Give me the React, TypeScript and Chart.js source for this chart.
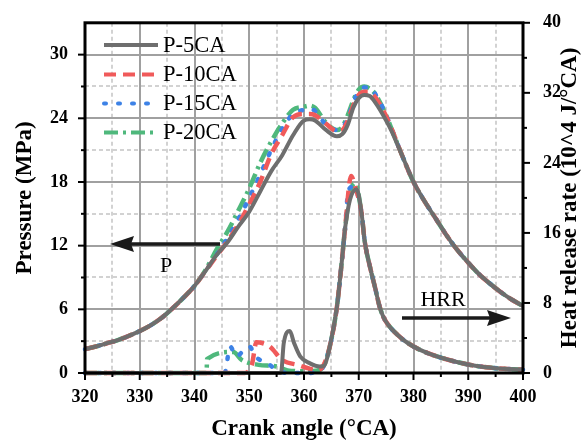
import React, { useEffect, useRef } from 'react';
import { Chart, registerables } from 'chart.js';

Chart.register(...registerables);

// ---------- data ----------
const pAngles = [320, 322, 324, 326, 328, 330, 332, 334, 336, 338, 340, 342, 344, 346, 348, 350, 352, 354, 356, 358, 360, 361, 362, 364, 366, 367, 368, 369, 370, 371, 372, 373, 375, 376, 378, 380, 382, 384, 386, 388, 390, 392, 394, 396, 398, 400];
const p5 = [2.25, 2.5, 2.8, 3.1, 3.5, 3.95, 4.5, 5.2, 6.1, 7.1, 8.2, 9.6, 11.1, 12.3, 13.8, 15.2, 17.1, 19.0, 20.5, 22.4, 23.8, 23.9, 23.8, 22.9, 22.3, 22.5, 23.4, 25.0, 25.9, 26.2, 26.1, 25.5, 23.8, 22.8, 20.4, 18.0, 16.2, 14.6, 13.0, 11.6, 10.4, 9.3, 8.4, 7.6, 6.9, 6.3];
const p10 = [2.25, 2.5, 2.8, 3.1, 3.5, 3.95, 4.5, 5.2, 6.1, 7.1, 8.2, 9.6, 11.0, 12.4, 14.0, 15.9, 18.0, 20.6, 22.4, 24.1, 24.4, 24.4, 24.3, 23.5, 22.8, 22.9, 23.8, 25.2, 26.2, 26.5, 26.5, 26.0, 24.2, 23.0, 20.4, 18.0, 16.2, 14.6, 13.0, 11.6, 10.4, 9.3, 8.4, 7.6, 6.9, 6.3];
const p15 = [2.25, 2.5, 2.8, 3.1, 3.5, 3.95, 4.5, 5.2, 6.1, 7.1, 8.2, 9.6, 11.1, 12.7, 14.5, 16.5, 18.7, 21.0, 23.0, 24.4, 24.8, 24.9, 24.7, 23.4, 22.9, 23.1, 24.0, 25.5, 26.5, 26.9, 26.9, 26.3, 24.3, 23.0, 20.4, 18.0, 16.2, 14.6, 13.0, 11.6, 10.4, 9.3, 8.4, 7.6, 6.9, 6.3];
const p20 = [2.25, 2.5, 2.8, 3.1, 3.5, 3.95, 4.5, 5.2, 6.1, 7.1, 8.2, 9.7, 11.6, 13.3, 15.3, 17.4, 19.8, 21.8, 23.5, 24.8, 25.1, 25.2, 25.0, 23.6, 22.9, 23.2, 24.3, 25.7, 26.7, 27.0, 26.8, 26.3, 24.3, 23.0, 20.4, 18.0, 16.2, 14.6, 13.0, 11.6, 10.4, 9.3, 8.4, 7.6, 6.9, 6.3];

const hrr5Angles = [320, 355.8, 356.3, 357.4, 358.2, 359.3, 361.1, 362.9, 363.6, 364.7, 366, 366.9, 367.5, 368.4, 369.6, 370.5, 371.1, 372.1, 373, 373.8, 374.5, 375.5, 377, 379, 381, 384, 387, 391, 395, 400];
const hrr5 = [0, 0, 3.4, 4.8, 3.4, 1.9, 1.1, 0.75, 0.8, 3.0, 7.5, 12.7, 16.5, 19.8, 21.0, 18.3, 15.0, 12.0, 9.7, 7.6, 6.4, 5.4, 4.4, 3.4, 2.7, 1.95, 1.4, 0.85, 0.55, 0.38];
const hrr10Angles = [320, 349.2, 350.5, 351.3, 352.5, 353.8, 356, 359, 361, 362.5, 363.5, 364.7, 366, 366.9, 367.5, 368.6, 369.3, 370.5, 371.1, 372.1, 373, 373.8, 374.5, 375.5, 377, 379, 381, 384, 387, 391, 395, 400];
const hrr10 = [0, 0, 1.0, 3.5, 3.4, 3.0, 1.5, 0.9, 0.5, 0.3, 0.8, 3.0, 7.5, 12.7, 16.5, 22.5, 21.4, 18.3, 15.0, 12.0, 9.7, 7.6, 6.4, 5.4, 4.4, 3.4, 2.7, 1.95, 1.4, 0.85, 0.55, 0.38];
const hrr15Angles = [320, 345.5, 346.5, 347.7, 349, 350.1, 351, 353.5, 355.6, 357, 360, 362.5, 363.6, 364.7, 366, 366.9, 367.5, 368.1, 369, 369.6, 370.5, 371.1, 372.1, 373, 373.8, 374.5, 375.5, 377, 379, 381, 384, 387, 391, 395, 400];
const hrr15 = [0, 0, 3.0, 1.9, 2.6, 3.0, 2.0, 1.0, 0.2, 0, 0, 0.1, 0.8, 3.0, 7.5, 12.7, 16.5, 20.8, 21.3, 20.8, 18.3, 15.0, 12.0, 9.7, 7.6, 6.4, 5.4, 4.4, 3.4, 2.7, 1.95, 1.4, 0.85, 0.55, 0.38];
const hrr20Angles = [320, 342.2, 342.3, 347.1, 348.6, 351.7, 355, 357, 360, 362.5, 363.6, 364.7, 366, 366.9, 367.5, 368.4, 369.3, 370.5, 371.1, 372.1, 373, 373.8, 374.5, 375.5, 377, 379, 381, 384, 387, 391, 395, 400];
const hrr20 = [0, 0, 1.6, 2.4, 1.5, 0.93, 0.74, 0.3, 0.2, 0.3, 0.8, 3.0, 7.5, 12.7, 16.5, 20.5, 21.7, 18.3, 15.0, 12.0, 9.7, 7.6, 6.4, 5.4, 4.4, 3.4, 2.7, 1.95, 1.4, 0.85, 0.55, 0.38];

const xTicks = [320, 330, 340, 350, 360, 370, 380, 390, 400];
const pTicks = [0, 6, 12, 18, 24, 30];
const hrrTicks = [0, 8, 16, 24, 32, 40];
const legendLabels = ['P-5CA', 'P-10CA', 'P-15CA', 'P-20CA'];
const xTitle = 'Crank angle (°CA)';
const yTitle = 'Pressure (MPa)';
const y2Title = 'Heat release rate (10^4 J/°CA)';

// ---------- styles ----------
const SERIF = '"Liberation Serif", "Times New Roman", serif';
const styles = [
  { color: '#6e6e6e', dash: [] as number[], cap: 'butt', width: 4 },
  { color: '#f05a5a', dash: [12, 7], cap: 'butt', width: 4.5 },
  { color: '#3d82e6', dash: [2, 12], cap: 'round', width: 4.5 },
  { color: '#4fb87c', dash: [14, 5, 3, 5], cap: 'butt', width: 4.5 },
];

const mk = (label: string, xs: number[], ys: number[], axis: string, i: number) => ({
  label,
  data: xs.map((x, k) => ({ x, y: ys[k] })),
  yAxisID: axis,
  borderColor: styles[i].color,
  borderWidth: styles[i].width,
  borderDash: styles[i].dash,
  borderCapStyle: styles[i].cap,
  pointRadius: 0,
  fill: false,
  cubicInterpolationMode: 'monotone',
  clip: 4,
});

const decor = {
  id: 'decor',
  beforeDatasetsDraw(chart: any) {
    const ctx = chart.ctx;
    const { left, right, top, bottom } = chart.chartArea;
    const xs = chart.scales.x;
    const ys = chart.scales.y;
    ctx.save();
    // minor grid (dashed)
    ctx.strokeStyle = '#c4c4c4';
    ctx.lineWidth = 1.5;
    ctx.setLineDash([4, 3]);
    for (let v = 325; v < 400; v += 10) {
      const x = Math.round(xs.getPixelForValue(v));
      ctx.beginPath(); ctx.moveTo(x, top); ctx.lineTo(x, bottom); ctx.stroke();
    }
    for (let v = 3; v <= 30; v += 6) {
      const y = Math.round(ys.getPixelForValue(v));
      ctx.beginPath(); ctx.moveTo(left, y); ctx.lineTo(right, y); ctx.stroke();
    }
    // major grid (solid)
    ctx.setLineDash([]);
    ctx.strokeStyle = '#a0a0a0';
    ctx.lineWidth = 2;
    for (let v = 330; v < 400; v += 10) {
      const x = Math.round(xs.getPixelForValue(v));
      ctx.beginPath(); ctx.moveTo(x, top); ctx.lineTo(x, bottom); ctx.stroke();
    }
    for (let v = 6; v <= 30; v += 6) {
      const y = Math.round(ys.getPixelForValue(v));
      ctx.beginPath(); ctx.moveTo(left, y); ctx.lineTo(right, y); ctx.stroke();
    }
    ctx.restore();
  },
  afterDatasetsDraw(chart: any) {
    const ctx = chart.ctx;
    const { left, right, top, bottom } = chart.chartArea;
    const xs = chart.scales.x;
    const ys = chart.scales.y;
    const y2 = chart.scales.y2;
    ctx.save();
    ctx.setLineDash([]);
    ctx.strokeStyle = '#000';
    // tick marks
    ctx.lineWidth = 2;
    for (let v = 0; v <= 30; v += 3) {
      const y = ys.getPixelForValue(v);
      const len = v % 6 === 0 ? 7 : 4;
      ctx.beginPath(); ctx.moveTo(left, y); ctx.lineTo(left - len, y); ctx.stroke();
    }
    for (let v = 0; v <= 40; v += 4) {
      const y = y2.getPixelForValue(v);
      const len = v % 8 === 0 ? 7 : 4;
      ctx.beginPath(); ctx.moveTo(right, y); ctx.lineTo(right + len, y); ctx.stroke();
    }
    for (let v = 320; v <= 400; v += 5) {
      const x = xs.getPixelForValue(v);
      const len = v % 10 === 0 ? 7 : 4;
      ctx.beginPath(); ctx.moveTo(x, bottom); ctx.lineTo(x, bottom + len); ctx.stroke();
    }
    // frame
    ctx.lineWidth = 3;
    ctx.strokeRect(left, top, right - left, bottom - top);

    // legend
    const rows = [45, 74.5, 103.5, 132.5];
    ctx.font = `22.5px ${SERIF}`;
    ctx.textBaseline = 'middle';
    ctx.textAlign = 'left';
    legendLabels.forEach((lab, i) => {
      const y = rows[i];
      ctx.strokeStyle = styles[i].color;
      ctx.lineWidth = 4;
      ctx.lineCap = styles[i].cap as CanvasLineCap;
      ctx.setLineDash(styles[i].dash);
      ctx.beginPath(); ctx.moveTo(104, y); ctx.lineTo(158, y); ctx.stroke();
      ctx.setLineDash([]);
      ctx.lineCap = 'butt';
      ctx.fillStyle = '#000';
      ctx.fillText(lab, 163, y + 1);
    });

    // arrows
    ctx.fillStyle = '#1a1a1a';
    ctx.strokeStyle = '#1a1a1a';
    ctx.lineWidth = 3.5;
    ctx.beginPath(); ctx.moveTo(220, 244); ctx.lineTo(128, 244); ctx.stroke();
    ctx.beginPath(); ctx.moveTo(110, 244); ctx.lineTo(134, 236); ctx.lineTo(131, 244); ctx.lineTo(134, 252); ctx.closePath(); ctx.fill();
    ctx.beginPath(); ctx.moveTo(402, 318); ctx.lineTo(494, 318); ctx.stroke();
    ctx.beginPath(); ctx.moveTo(511, 318); ctx.lineTo(487, 310); ctx.lineTo(490, 318); ctx.lineTo(487, 326); ctx.closePath(); ctx.fill();

    ctx.fillStyle = '#000';
    ctx.font = `22px ${SERIF}`;
    ctx.textAlign = 'center';
    ctx.textBaseline = 'middle';
    ctx.fillText('P', 166, 266);
    ctx.fillText('HRR', 443, 300);

    // axis titles
    ctx.font = `bold 23px ${SERIF}`;
    ctx.fillText(xTitle, 304, 429);
    const cy = (top + bottom) / 2;
    ctx.save();
    ctx.translate(25, cy);
    ctx.rotate(-Math.PI / 2);
    ctx.fillText(yTitle, 0, 0);
    ctx.restore();
    ctx.save();
    ctx.translate(570, cy);
    ctx.rotate(-Math.PI / 2);
    ctx.fillText(y2Title, 0, 0);
    ctx.restore();
    ctx.restore();
  },
};

export default function App() {
  const ref = useRef<HTMLCanvasElement | null>(null);
  useEffect(() => {
    if (!ref.current) return;
    const tickFont = { family: SERIF, size: 18, weight: 'bold' as const };
    const chart = new Chart(ref.current, {
      type: 'line',
      data: {
        datasets: [
          mk('P-5CA', pAngles, p5, 'y', 0),
          mk('P-10CA', pAngles, p10, 'y', 1),
          mk('P-15CA', pAngles, p15, 'y', 2),
          mk('P-20CA', pAngles, p20, 'y', 3),
          mk('HRR-5CA', hrr5Angles, hrr5, 'y2', 0),
          mk('HRR-10CA', hrr10Angles, hrr10, 'y2', 1),
          mk('HRR-15CA', hrr15Angles, hrr15, 'y2', 2),
          mk('HRR-20CA', hrr20Angles, hrr20, 'y2', 3),
        ] as any,
      },
      options: {
        responsive: false,
        animation: false,
        devicePixelRatio: 1,
        layout: { padding: { top: 18, left: 0, right: 0, bottom: 0 } },
        plugins: { legend: { display: false }, tooltip: { enabled: false } },
        scales: {
          x: {
            type: 'linear',
            min: 320,
            max: 400,
            afterBuildTicks: (s: any) => { s.ticks = xTicks.map((v) => ({ value: v })); },
            afterFit: (s: any) => { s.height = 71; },
            grid: { display: false },
            border: { display: false },
            ticks: { font: tickFont, color: '#000', padding: 6, maxRotation: 0 },
          },
          y: {
            type: 'linear',
            position: 'left',
            min: 0,
            max: 33,
            afterBuildTicks: (s: any) => { s.ticks = pTicks.map((v) => ({ value: v })); },
            afterFit: (s: any) => { s.width = 85; },
            grid: { display: false },
            border: { display: false },
            ticks: { font: tickFont, color: '#000', padding: 9 },
          },
          y2: {
            type: 'linear',
            position: 'right',
            min: 0,
            max: 40,
            afterBuildTicks: (s: any) => { s.ticks = hrrTicks.map((v) => ({ value: v })); },
            afterFit: (s: any) => { s.width = 58; },
            grid: { display: false },
            border: { display: false },
            ticks: { font: tickFont, color: '#000', padding: 12 },
          },
        },
      } as any,
      plugins: [decor],
    });
    return () => chart.destroy();
  }, []);
  return (
    <div style={{ position: 'absolute', left: 0, top: 0, width: 581, height: 444, background: '#fff' }}>
      <canvas ref={ref} width={581} height={444} style={{ display: 'block' }} />
    </div>
  );
}
